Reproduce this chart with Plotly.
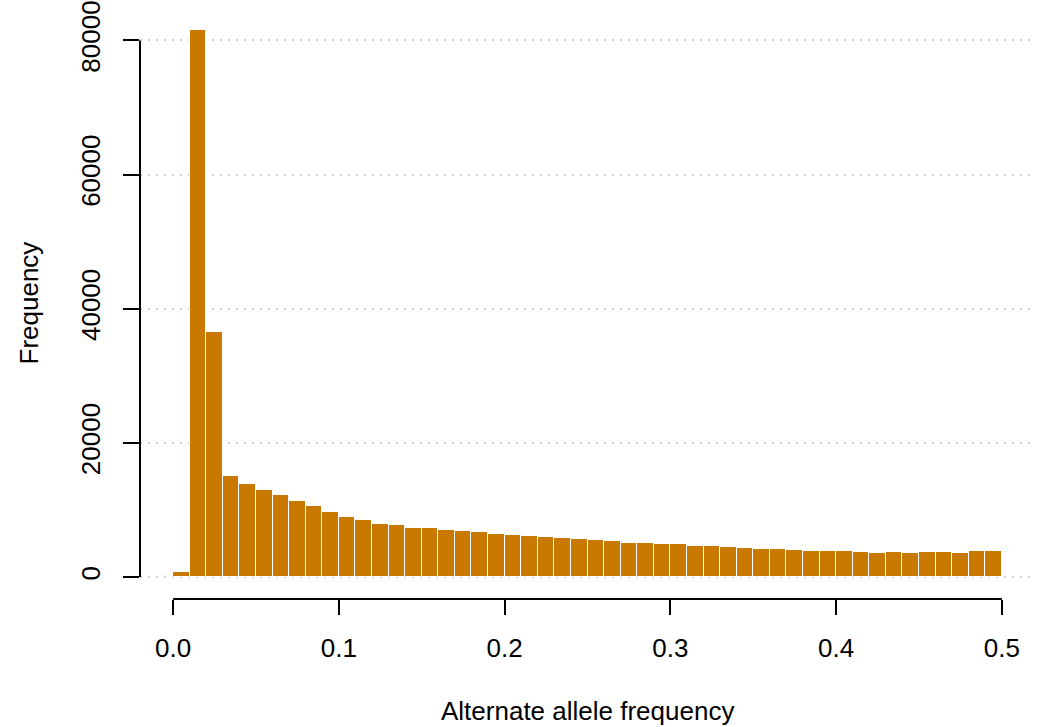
import numpy as np
import plotly.graph_objects as go

# Histogram of alternate allele frequency: 50 bins of width 0.01 on [0, 0.5]
bin_start = 0.0
bin_width = 0.01
counts = [760, 81570, 36585, 15010, 13875, 13060, 12300, 11275, 10570, 9755,
          8890, 8565, 7915, 7695, 7320, 7320, 7080, 6850, 6700, 6450,
          6350, 6200, 6050, 5900, 5700, 5600, 5450, 5150, 5150, 4950,
          4900, 4700, 4600, 4500, 4350, 4250, 4150, 4100, 3950, 3850,
          3950, 3750, 3650, 3750, 3650, 3750, 3750, 3650, 3950, 3950]
x_ticks = [0.0, 0.1, 0.2, 0.3, 0.4, 0.5]
y_ticks = [0, 20000, 40000, 60000, 80000]
x_title = "Alternate allele frequency"
y_title = "Frequency"

bar_color = "#C97800"
grid_color = "#CFCFCF"
font_family = "Liberation Sans, Arial, Helvetica, sans-serif"
fs = 26

n = len(counts)
edges = bin_start + bin_width * np.arange(n + 1)
centers = (edges[:-1] + edges[1:]) / 2

xlo, xhi = edges[0], edges[-1]
xpad = 0.04 * (xhi - xlo)
ymax = max(counts)
ypad = 0.04 * ymax

fig = go.Figure()
fig.add_trace(go.Bar(
    x=centers, y=counts, width=bin_width,
    marker=dict(color=bar_color, line=dict(color="white", width=1)),
    hoverinfo="x+y",
))

fig.update_layout(
    template="none",
    width=1057, height=727,
    margin=dict(l=140, r=22, t=8, b=128, autoexpand=False),
    plot_bgcolor="white", paper_bgcolor="white",
    showlegend=False, bargap=0,
    font=dict(family=font_family, size=fs, color="black"),
    xaxis=dict(
        range=[xlo - xpad, xhi + xpad], showgrid=False, zeroline=False,
        showline=False, tickvals=x_ticks, tickformat=".1f", automargin=False,
        ticks="outside", ticklen=15, tickwidth=2, tickcolor="black",
        ticklabelstandoff=11,
        tickfont=dict(size=fs), fixedrange=True,
    ),
    yaxis=dict(
        range=[-ypad, ymax + ypad], showgrid=True, gridcolor=grid_color,
        griddash="2px,6px", gridwidth=1.5, zeroline=False, showline=False,
        tickvals=y_ticks, tickformat="d", tickangle=-90, automargin=False,
        ticks="outside", ticklen=16, tickwidth=2, tickcolor="black",
        ticklabelstandoff=13,
        tickfont=dict(size=fs), layer="above traces", fixedrange=True,
    ),
    shapes=[
        dict(type="line", xref="x", yref="paper", x0=x_ticks[0], x1=x_ticks[-1],
             y0=0, y1=0, line=dict(color="black", width=2)),
        dict(type="line", xref="paper", yref="y", x0=0, x1=0,
             y0=y_ticks[0], y1=y_ticks[-1], line=dict(color="black", width=2)),
    ],
    annotations=[
        dict(text=x_title, xref="paper", yref="paper", x=0.5, y=0,
             xanchor="center", yanchor="middle", yshift=-112, showarrow=False,
             font=dict(size=fs)),
        dict(text=y_title, xref="paper", yref="paper", x=0, y=0.5,
             xanchor="center", yanchor="middle", xshift=-112, textangle=-90,
             showarrow=False, font=dict(size=fs)),
    ],
)

fig.write_html("out.html")
